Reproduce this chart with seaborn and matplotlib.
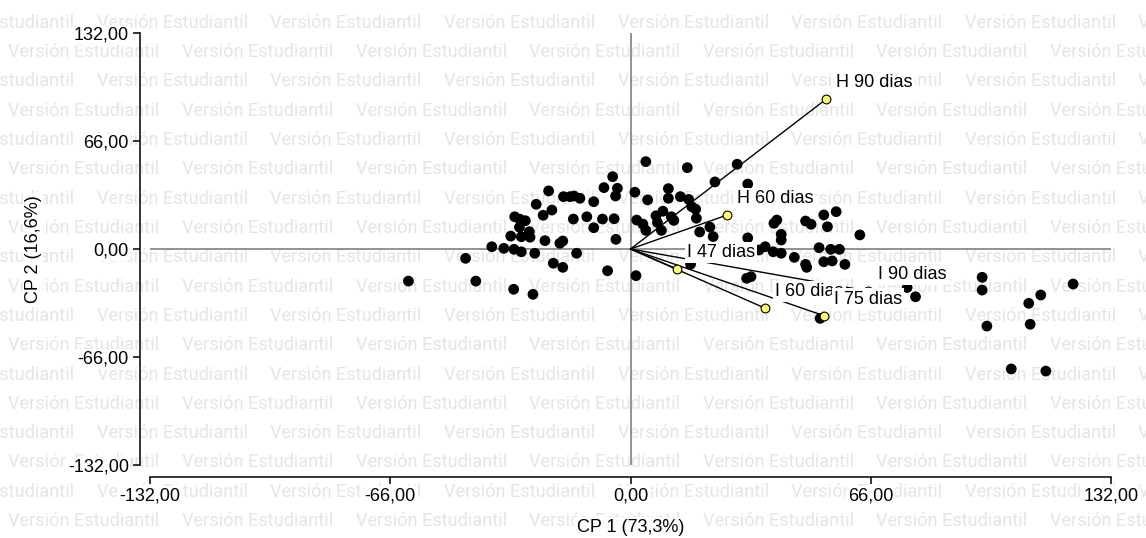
import numpy as np
import pandas as pd
import matplotlib
matplotlib.use('Agg')
import matplotlib.pyplot as plt
import seaborn as sns

# ---------------- data ----------------
cp1 = [-61.0, -45.3, -42.5, -38.1, -34.8, -32.0, -30.0, -32.1, -26.8, -26.3,
       -32.9, -31.8, -30.4, -28.9, -30.5, -30.0, -27.8, -27.6, -25.9, -24.0,
       -21.6, -22.5, -23.5, -19.4, -18.6, -21.2, -18.6, -18.4, -16.6, -15.5,
       -13.9, -15.7, -14.8, -12.0, -10.1, -10.1, -7.7, -7.3, -4.9, -3.6,
       -4.1, -4.5, -4.0, -6.3, 1.2, 1.7, 1.5,
       4.2, 15.6, 29.3, 23.2, 32.2, 10.4, 4.7, 10.4, 13.7, 16.0,
       16.8, 17.9, 18.1, 7.0, 8.9, 11.2, 11.9, 3.4, 7.4, 4.2,
       8.5, 19.0, 21.8, 22.7, 32.2, 16.5, 31.9, 33.1, 52.1,
       39.4, 40.2, 41.4, 41.4, 48.1, 49.6, 53.1, 56.5, 54.1, 63.0,
       37.0, 35.3, 39.2, 41.4, 45.0, 48.1, 48.4, 51.8, 55.0, 57.4,
       53.1, 55.4, 58.9, 76.0, 78.3,
       96.6, 96.6, 97.9, 104.6, 109.4, 112.7, 109.8, 114.1, 121.6]
cp2 = [-19.6, -5.7, -19.6, 1.4, 0.4, -0.2, -1.7, -24.6, -27.7, -2.6,
       7.9, 19.7, 18.2, 17.3, 13.3, 7.5, 10.6, 7.2, 27.3, 20.6,
       23.8, 35.5, 5.1, 3.5, 4.9, -8.7, -11.2, 32.0, 32.0, 32.4,
       31.0, 18.3, -2.6, 19.7, 28.9, 13.0, 18.3, 37.5, 44.2, 37.1,
       32.4, 18.5, 5.9, -13.3, 34.7, 17.7, -16.3,
       53.4, 49.7, 51.8, 41.0, 39.7, 36.9, 30.0, 31.0, 32.0, 30.3,
       25.9, 24.3, 18.8, 20.3, 23.1, 19.7, 17.5, 15.2, 16.2, 11.4,
       11.4, 10.4, 13.4, 7.6, 6.8, -9.3, -17.9, -16.9, -42.4,
       15.7, 17.7, 9.0, 5.5, 17.1, 15.1, 20.8, 22.8, 13.6, 8.6,
       1.4, -0.6, -1.7, -2.6, -5.1, -9.4, -11.2, 0.8, -0.2, -0.2,
       -7.8, -7.3, -9.4, -23.5, -29.2,
       -17.3, -25.1, -47.1, -73.3, -33.2, -28.1, -46.0, -74.6, -21.4]

var_names = ["H 90 dias", "H 60 dias", "I 47 dias", "I 60 dias", "I 90 dias", "I 75 dias"]
var_cp1 = [53.7, 26.6, 12.7, 37.0, 65.3, 53.2]
var_cp2 = [91.5, 20.8, -12.2, -36.2, -25.7, -40.8]

tick_values = [-132, -66, 0, 66, 132]
tick_labels = ["-132,00", "-66,00", "0,00", "66,00", "132,00"]
x_label = "CP 1 (73,3%)"
y_label = "CP 2 (16,6%)"
watermark = "Versión Estudiantil"

# ---------------- style ----------------
sns.set_theme(style='white')
plt.rcParams['font.family'] = ['Liberation Sans', 'DejaVu Sans']
FS = 13

W, H = 1146, 538
fig = plt.figure(figsize=(W / 100, H / 100), dpi=100)
fig.patch.set_facecolor('white')
ax = fig.add_axes([150 / W, 73 / H, 961 / W, 432 / H])
ax.patch.set_visible(False)

# watermark grid (behind the axes)
renderer = fig.canvas.get_renderer()
probe = fig.text(0, 0, watermark, fontsize=10, family=['Roboto', 'DejaVu Sans'])
w10 = probe.get_window_extent(renderer).width
probe.remove()
wfs = 10 * 151 / w10
period = 173.6
for k in range(18):
    base = 27.9 + 29.3 * k
    x = 8.3 if k % 2 == 1 else 8.3 + 88.4 - period
    while x < W:
        fig.text(x / W, 1 - base / H, watermark, fontsize=wfs, color='#e5e5e5',
                 family=['Roboto', 'DejaVu Sans'], ha='left', va='baseline', zorder=-5)
        x += period

# reference lines
ax.axhline(0, color='#808080', lw=1.2, zorder=1)
ax.axvline(0, color='#808080', lw=1.2, zorder=1)

df = pd.DataFrame({'cp1': cp1, 'cp2': cp2})
sns.scatterplot(data=df, x='cp1', y='cp2', color='black', s=60, edgecolor='none',
                ax=ax, zorder=2, legend=False)

dfv = pd.DataFrame({'cp1': var_cp1, 'cp2': var_cp2, 'name': var_names})
for _, r in dfv.iterrows():
    ax.plot([0, r.cp1], [0, r.cp2], color='black', lw=1.0, zorder=3)
sns.scatterplot(data=dfv, x='cp1', y='cp2', color='#ffff66', s=40, edgecolor='black',
                linewidth=0.8, ax=ax, zorder=4, legend=False)
for _, r in dfv.iterrows():
    ax.annotate(r['name'], (r.cp1, r.cp2), xytext=(7.2, 12), textcoords='offset points',
                ha='left', va='center', fontsize=FS, color='black', zorder=5,
                bbox=dict(boxstyle='square,pad=0.12', fc='white', ec='none'))

ax.set_xlim(-132, 132)
ax.set_ylim(-132, 132)
ax.set_xticks(tick_values)
ax.set_xticklabels(tick_labels)
ax.set_yticks(tick_values)
ax.set_yticklabels(tick_labels)

sns.despine(ax=ax, offset=dict(left=7.2, bottom=8.4))
for s in ['left', 'bottom']:
    ax.spines[s].set_color('black')
    ax.spines[s].set_linewidth(1.1)
ax.tick_params(axis='both', which='major', direction='out', length=5, width=1.1,
               color='black', labelsize=FS, labelcolor='black', pad=3,
               bottom=True, left=True)
for lbl in ax.get_xticklabels() + ax.get_yticklabels():
    lbl.set_bbox(dict(fc='white', ec='none', pad=1))

ax.set_xlabel(x_label, fontsize=FS, color='black',
              bbox=dict(fc='white', ec='none', pad=1))
ax.set_ylabel(y_label, fontsize=FS, color='black',
              bbox=dict(fc='white', ec='none', pad=1))
ax.xaxis.set_label_coords(0.5, -(527 - 465) / 432)
ax.xaxis.label.set_va('center')
ax.yaxis.set_label_coords(-(150 - 33) / 961, 0.5)
ax.yaxis.label.set_va('center')
ax.grid(False)

fig.savefig('out.png', dpi=100)
